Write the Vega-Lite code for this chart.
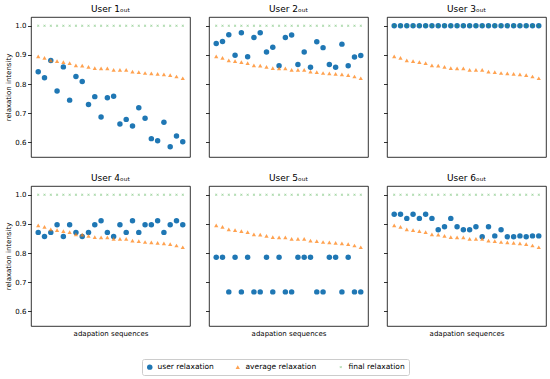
{
"$schema":"https://vega.github.io/schema/vega-lite/v6.json",
"padding":{"left":4,"top":4,"right":5,"bottom":4},
"data":{"values":[
{"u":1,"s":0,"k":"user relaxation","v":0.842},{"u":1,"s":1,"k":"user relaxation","v":0.822},{"u":1,"s":2,"k":"user relaxation","v":0.881},{"u":1,"s":3,"k":"user relaxation","v":0.776},{"u":1,"s":4,"k":"user relaxation","v":0.859},{"u":1,"s":5,"k":"user relaxation","v":0.745},{"u":1,"s":6,"k":"user relaxation","v":0.826},{"u":1,"s":7,"k":"user relaxation","v":0.809},{"u":1,"s":8,"k":"user relaxation","v":0.730},{"u":1,"s":9,"k":"user relaxation","v":0.757},{"u":1,"s":10,"k":"user relaxation","v":0.687},{"u":1,"s":11,"k":"user relaxation","v":0.753},{"u":1,"s":12,"k":"user relaxation","v":0.758},{"u":1,"s":13,"k":"user relaxation","v":0.663},{"u":1,"s":14,"k":"user relaxation","v":0.679},{"u":1,"s":15,"k":"user relaxation","v":0.656},{"u":1,"s":16,"k":"user relaxation","v":0.719},{"u":1,"s":17,"k":"user relaxation","v":0.683},{"u":1,"s":18,"k":"user relaxation","v":0.613},{"u":1,"s":19,"k":"user relaxation","v":0.606},{"u":1,"s":20,"k":"user relaxation","v":0.669},{"u":1,"s":21,"k":"user relaxation","v":0.585},{"u":1,"s":22,"k":"user relaxation","v":0.622},{"u":1,"s":23,"k":"user relaxation","v":0.602},
{"u":2,"s":0,"k":"user relaxation","v":0.939},{"u":2,"s":1,"k":"user relaxation","v":0.946},{"u":2,"s":2,"k":"user relaxation","v":0.969},{"u":2,"s":3,"k":"user relaxation","v":0.899},{"u":2,"s":4,"k":"user relaxation","v":0.976},{"u":2,"s":5,"k":"user relaxation","v":0.894},{"u":2,"s":6,"k":"user relaxation","v":0.960},{"u":2,"s":7,"k":"user relaxation","v":0.976},{"u":2,"s":8,"k":"user relaxation","v":0.910},{"u":2,"s":9,"k":"user relaxation","v":0.926},{"u":2,"s":10,"k":"user relaxation","v":0.863},{"u":2,"s":11,"k":"user relaxation","v":0.960},{"u":2,"s":12,"k":"user relaxation","v":0.968},{"u":2,"s":13,"k":"user relaxation","v":0.867},{"u":2,"s":14,"k":"user relaxation","v":0.910},{"u":2,"s":15,"k":"user relaxation","v":0.858},{"u":2,"s":16,"k":"user relaxation","v":0.945},{"u":2,"s":17,"k":"user relaxation","v":0.925},{"u":2,"s":18,"k":"user relaxation","v":0.867},{"u":2,"s":19,"k":"user relaxation","v":0.858},{"u":2,"s":20,"k":"user relaxation","v":0.937},{"u":2,"s":21,"k":"user relaxation","v":0.863},{"u":2,"s":22,"k":"user relaxation","v":0.893},{"u":2,"s":23,"k":"user relaxation","v":0.898},
{"u":3,"s":0,"k":"user relaxation","v":1.0},{"u":3,"s":1,"k":"user relaxation","v":1.0},{"u":3,"s":2,"k":"user relaxation","v":1.0},{"u":3,"s":3,"k":"user relaxation","v":1.0},{"u":3,"s":4,"k":"user relaxation","v":1.0},{"u":3,"s":5,"k":"user relaxation","v":1.0},{"u":3,"s":6,"k":"user relaxation","v":1.0},{"u":3,"s":7,"k":"user relaxation","v":1.0},{"u":3,"s":8,"k":"user relaxation","v":1.0},{"u":3,"s":9,"k":"user relaxation","v":1.0},{"u":3,"s":10,"k":"user relaxation","v":1.0},{"u":3,"s":11,"k":"user relaxation","v":1.0},{"u":3,"s":12,"k":"user relaxation","v":1.0},{"u":3,"s":13,"k":"user relaxation","v":1.0},{"u":3,"s":14,"k":"user relaxation","v":1.0},{"u":3,"s":15,"k":"user relaxation","v":1.0},{"u":3,"s":16,"k":"user relaxation","v":1.0},{"u":3,"s":17,"k":"user relaxation","v":1.0},{"u":3,"s":18,"k":"user relaxation","v":1.0},{"u":3,"s":19,"k":"user relaxation","v":1.0},{"u":3,"s":20,"k":"user relaxation","v":1.0},{"u":3,"s":21,"k":"user relaxation","v":1.0},{"u":3,"s":22,"k":"user relaxation","v":1.0},{"u":3,"s":23,"k":"user relaxation","v":1.0},
{"u":4,"s":0,"k":"user relaxation","v":0.871},{"u":4,"s":1,"k":"user relaxation","v":0.857},{"u":4,"s":2,"k":"user relaxation","v":0.871},{"u":4,"s":3,"k":"user relaxation","v":0.897},{"u":4,"s":4,"k":"user relaxation","v":0.857},{"u":4,"s":5,"k":"user relaxation","v":0.897},{"u":4,"s":6,"k":"user relaxation","v":0.871},{"u":4,"s":7,"k":"user relaxation","v":0.857},{"u":4,"s":8,"k":"user relaxation","v":0.871},{"u":4,"s":9,"k":"user relaxation","v":0.897},{"u":4,"s":10,"k":"user relaxation","v":0.911},{"u":4,"s":11,"k":"user relaxation","v":0.871},{"u":4,"s":12,"k":"user relaxation","v":0.857},{"u":4,"s":13,"k":"user relaxation","v":0.897},{"u":4,"s":14,"k":"user relaxation","v":0.871},{"u":4,"s":15,"k":"user relaxation","v":0.911},{"u":4,"s":16,"k":"user relaxation","v":0.871},{"u":4,"s":17,"k":"user relaxation","v":0.897},{"u":4,"s":18,"k":"user relaxation","v":0.897},{"u":4,"s":19,"k":"user relaxation","v":0.911},{"u":4,"s":20,"k":"user relaxation","v":0.871},{"u":4,"s":21,"k":"user relaxation","v":0.897},{"u":4,"s":22,"k":"user relaxation","v":0.911},{"u":4,"s":23,"k":"user relaxation","v":0.897},
{"u":5,"s":0,"k":"user relaxation","v":0.786},{"u":5,"s":1,"k":"user relaxation","v":0.786},{"u":5,"s":2,"k":"user relaxation","v":0.667},{"u":5,"s":3,"k":"user relaxation","v":0.786},{"u":5,"s":4,"k":"user relaxation","v":0.667},{"u":5,"s":5,"k":"user relaxation","v":0.786},{"u":5,"s":6,"k":"user relaxation","v":0.667},{"u":5,"s":7,"k":"user relaxation","v":0.667},{"u":5,"s":8,"k":"user relaxation","v":0.786},{"u":5,"s":9,"k":"user relaxation","v":0.667},{"u":5,"s":10,"k":"user relaxation","v":0.786},{"u":5,"s":11,"k":"user relaxation","v":0.667},{"u":5,"s":12,"k":"user relaxation","v":0.667},{"u":5,"s":13,"k":"user relaxation","v":0.786},{"u":5,"s":14,"k":"user relaxation","v":0.786},{"u":5,"s":15,"k":"user relaxation","v":0.786},{"u":5,"s":16,"k":"user relaxation","v":0.667},{"u":5,"s":17,"k":"user relaxation","v":0.667},{"u":5,"s":18,"k":"user relaxation","v":0.786},{"u":5,"s":19,"k":"user relaxation","v":0.786},{"u":5,"s":20,"k":"user relaxation","v":0.667},{"u":5,"s":21,"k":"user relaxation","v":0.786},{"u":5,"s":22,"k":"user relaxation","v":0.667},{"u":5,"s":23,"k":"user relaxation","v":0.667},
{"u":6,"s":0,"k":"user relaxation","v":0.933},{"u":6,"s":1,"k":"user relaxation","v":0.933},{"u":6,"s":2,"k":"user relaxation","v":0.919},{"u":6,"s":3,"k":"user relaxation","v":0.933},{"u":6,"s":4,"k":"user relaxation","v":0.919},{"u":6,"s":5,"k":"user relaxation","v":0.933},{"u":6,"s":6,"k":"user relaxation","v":0.919},{"u":6,"s":7,"k":"user relaxation","v":0.880},{"u":6,"s":8,"k":"user relaxation","v":0.890},{"u":6,"s":9,"k":"user relaxation","v":0.919},{"u":6,"s":10,"k":"user relaxation","v":0.890},{"u":6,"s":11,"k":"user relaxation","v":0.880},{"u":6,"s":12,"k":"user relaxation","v":0.880},{"u":6,"s":13,"k":"user relaxation","v":0.890},{"u":6,"s":14,"k":"user relaxation","v":0.856},{"u":6,"s":15,"k":"user relaxation","v":0.890},{"u":6,"s":16,"k":"user relaxation","v":0.859},{"u":6,"s":17,"k":"user relaxation","v":0.880},{"u":6,"s":18,"k":"user relaxation","v":0.856},{"u":6,"s":19,"k":"user relaxation","v":0.856},{"u":6,"s":20,"k":"user relaxation","v":0.859},{"u":6,"s":21,"k":"user relaxation","v":0.856},{"u":6,"s":22,"k":"user relaxation","v":0.859},{"u":6,"s":23,"k":"user relaxation","v":0.859},
{"u":0,"s":0,"k":"average relaxation","v":0.895},{"u":0,"s":1,"k":"average relaxation","v":0.890},{"u":0,"s":2,"k":"average relaxation","v":0.881},{"u":0,"s":3,"k":"average relaxation","v":0.879},{"u":0,"s":4,"k":"average relaxation","v":0.875},{"u":0,"s":5,"k":"average relaxation","v":0.872},{"u":0,"s":6,"k":"average relaxation","v":0.864},{"u":0,"s":7,"k":"average relaxation","v":0.863},{"u":0,"s":8,"k":"average relaxation","v":0.859},{"u":0,"s":9,"k":"average relaxation","v":0.855},{"u":0,"s":10,"k":"average relaxation","v":0.854},{"u":0,"s":11,"k":"average relaxation","v":0.854},{"u":0,"s":12,"k":"average relaxation","v":0.849},{"u":0,"s":13,"k":"average relaxation","v":0.849},{"u":0,"s":14,"k":"average relaxation","v":0.849},{"u":0,"s":15,"k":"average relaxation","v":0.843},{"u":0,"s":16,"k":"average relaxation","v":0.841},{"u":0,"s":17,"k":"average relaxation","v":0.838},{"u":0,"s":18,"k":"average relaxation","v":0.837},{"u":0,"s":19,"k":"average relaxation","v":0.835},{"u":0,"s":20,"k":"average relaxation","v":0.833},{"u":0,"s":21,"k":"average relaxation","v":0.831},{"u":0,"s":22,"k":"average relaxation","v":0.826},{"u":0,"s":23,"k":"average relaxation","v":0.820},
{"u":0,"s":0,"k":"final relaxation","v":1.0},{"u":0,"s":1,"k":"final relaxation","v":1.0},{"u":0,"s":2,"k":"final relaxation","v":1.0},{"u":0,"s":3,"k":"final relaxation","v":1.0},{"u":0,"s":4,"k":"final relaxation","v":1.0},{"u":0,"s":5,"k":"final relaxation","v":1.0},{"u":0,"s":6,"k":"final relaxation","v":1.0},{"u":0,"s":7,"k":"final relaxation","v":1.0},{"u":0,"s":8,"k":"final relaxation","v":1.0},{"u":0,"s":9,"k":"final relaxation","v":1.0},{"u":0,"s":10,"k":"final relaxation","v":1.0},{"u":0,"s":11,"k":"final relaxation","v":1.0},{"u":0,"s":12,"k":"final relaxation","v":1.0},{"u":0,"s":13,"k":"final relaxation","v":1.0},{"u":0,"s":14,"k":"final relaxation","v":1.0},{"u":0,"s":15,"k":"final relaxation","v":1.0},{"u":0,"s":16,"k":"final relaxation","v":1.0},{"u":0,"s":17,"k":"final relaxation","v":1.0},{"u":0,"s":18,"k":"final relaxation","v":1.0},{"u":0,"s":19,"k":"final relaxation","v":1.0},{"u":0,"s":20,"k":"final relaxation","v":1.0},{"u":0,"s":21,"k":"final relaxation","v":1.0},{"u":0,"s":22,"k":"final relaxation","v":1.0},{"u":0,"s":23,"k":"final relaxation","v":1.0}
]},
"vconcat":[
{"hconcat":[
{"width":159,"height":140,"title":{"text":"User 1ₒᵤₜ","fontWeight":400},"transform":[{"filter":"datum.u == 1 || datum.u == 0"}],"mark":{"type":"point","filled":true},
"encoding":{
"x":{"field":"s","type":"quantitative","scale":{"domain":[-1.15,24.15],"nice":false,"zero":false},"axis":null},
"y":{"field":"v","type":"quantitative","scale":{"domain":[0.55,1.03],"nice":false,"zero":false},"axis":{"values":[0.6,0.7,0.8,0.9,1.0],"format":".1f","title":"relaxation intensity"}},
"color":{"field":"k","type":"nominal","scale":{"domain":["user relaxation","average relaxation","final relaxation"],"range":["#1f77b4","#ff7f0e","#2ca02c"]},"legend":{"title":null}},
"shape":{"field":"k","type":"nominal","scale":{"domain":["user relaxation","average relaxation","final relaxation"],"range":["circle","triangle-up","M-1,-0.6L-0.6,-1L0,-0.4L0.6,-1L1,-0.6L0.4,0L1,0.6L0.6,1L0,0.4L-0.6,1L-1,0.6L-0.4,0Z"]},"legend":{"title":null}},
"opacity":{"field":"k","type":"nominal","scale":{"domain":["user relaxation","average relaxation","final relaxation"],"range":[1,0.45,0.5]},"legend":{"title":null}},
"size":{"field":"k","type":"nominal","scale":{"domain":["user relaxation","average relaxation","final relaxation"],"range":[30,6,9]},"legend":{"title":null}}
}},
{"width":159,"height":140,"title":{"text":"User 2ₒᵤₜ","fontWeight":400},"transform":[{"filter":"datum.u == 2 || datum.u == 0"}],"mark":{"type":"point","filled":true},
"encoding":{
"x":{"field":"s","type":"quantitative","scale":{"domain":[-1.15,24.15],"nice":false,"zero":false},"axis":null},
"y":{"field":"v","type":"quantitative","scale":{"domain":[0.55,1.03],"nice":false,"zero":false},"axis":{"values":[0.6,0.7,0.8,0.9,1.0],"labels":false,"title":null}},
"color":{"field":"k","type":"nominal","scale":{"domain":["user relaxation","average relaxation","final relaxation"],"range":["#1f77b4","#ff7f0e","#2ca02c"]},"legend":{"title":null}},
"shape":{"field":"k","type":"nominal","scale":{"domain":["user relaxation","average relaxation","final relaxation"],"range":["circle","triangle-up","M-1,-0.6L-0.6,-1L0,-0.4L0.6,-1L1,-0.6L0.4,0L1,0.6L0.6,1L0,0.4L-0.6,1L-1,0.6L-0.4,0Z"]},"legend":{"title":null}},
"opacity":{"field":"k","type":"nominal","scale":{"domain":["user relaxation","average relaxation","final relaxation"],"range":[1,0.45,0.5]},"legend":{"title":null}},
"size":{"field":"k","type":"nominal","scale":{"domain":["user relaxation","average relaxation","final relaxation"],"range":[30,6,9]},"legend":{"title":null}}
}},
{"width":159,"height":140,"title":{"text":"User 3ₒᵤₜ","fontWeight":400},"transform":[{"filter":"datum.u == 3 || datum.u == 0"}],"mark":{"type":"point","filled":true},
"encoding":{
"x":{"field":"s","type":"quantitative","scale":{"domain":[-1.15,24.15],"nice":false,"zero":false},"axis":null},
"y":{"field":"v","type":"quantitative","scale":{"domain":[0.55,1.03],"nice":false,"zero":false},"axis":{"values":[0.6,0.7,0.8,0.9,1.0],"labels":false,"title":null}},
"color":{"field":"k","type":"nominal","scale":{"domain":["user relaxation","average relaxation","final relaxation"],"range":["#1f77b4","#ff7f0e","#2ca02c"]},"legend":{"title":null}},
"shape":{"field":"k","type":"nominal","scale":{"domain":["user relaxation","average relaxation","final relaxation"],"range":["circle","triangle-up","M-1,-0.6L-0.6,-1L0,-0.4L0.6,-1L1,-0.6L0.4,0L1,0.6L0.6,1L0,0.4L-0.6,1L-1,0.6L-0.4,0Z"]},"legend":{"title":null}},
"opacity":{"field":"k","type":"nominal","scale":{"domain":["user relaxation","average relaxation","final relaxation"],"range":[1,0.45,0.5]},"legend":{"title":null}},
"size":{"field":"k","type":"nominal","scale":{"domain":["user relaxation","average relaxation","final relaxation"],"range":[30,6,9]},"legend":{"title":null}}
}}
]},
{"hconcat":[
{"width":159,"height":140,"title":{"text":"User 4ₒᵤₜ","fontWeight":400},"transform":[{"filter":"datum.u == 4 || datum.u == 0"}],"mark":{"type":"point","filled":true},
"encoding":{
"x":{"field":"s","type":"quantitative","scale":{"domain":[-1.15,24.15],"nice":false,"zero":false},"axis":{"ticks":false,"labels":false,"title":"adapation sequences"}},
"y":{"field":"v","type":"quantitative","scale":{"domain":[0.55,1.03],"nice":false,"zero":false},"axis":{"values":[0.6,0.7,0.8,0.9,1.0],"format":".1f","title":"relaxation intensity"}},
"color":{"field":"k","type":"nominal","scale":{"domain":["user relaxation","average relaxation","final relaxation"],"range":["#1f77b4","#ff7f0e","#2ca02c"]},"legend":{"title":null}},
"shape":{"field":"k","type":"nominal","scale":{"domain":["user relaxation","average relaxation","final relaxation"],"range":["circle","triangle-up","M-1,-0.6L-0.6,-1L0,-0.4L0.6,-1L1,-0.6L0.4,0L1,0.6L0.6,1L0,0.4L-0.6,1L-1,0.6L-0.4,0Z"]},"legend":{"title":null}},
"opacity":{"field":"k","type":"nominal","scale":{"domain":["user relaxation","average relaxation","final relaxation"],"range":[1,0.45,0.5]},"legend":{"title":null}},
"size":{"field":"k","type":"nominal","scale":{"domain":["user relaxation","average relaxation","final relaxation"],"range":[30,6,9]},"legend":{"title":null}}
}},
{"width":159,"height":140,"title":{"text":"User 5ₒᵤₜ","fontWeight":400},"transform":[{"filter":"datum.u == 5 || datum.u == 0"}],"mark":{"type":"point","filled":true},
"encoding":{
"x":{"field":"s","type":"quantitative","scale":{"domain":[-1.15,24.15],"nice":false,"zero":false},"axis":{"ticks":false,"labels":false,"title":"adapation sequences"}},
"y":{"field":"v","type":"quantitative","scale":{"domain":[0.55,1.03],"nice":false,"zero":false},"axis":{"values":[0.6,0.7,0.8,0.9,1.0],"labels":false,"title":null}},
"color":{"field":"k","type":"nominal","scale":{"domain":["user relaxation","average relaxation","final relaxation"],"range":["#1f77b4","#ff7f0e","#2ca02c"]},"legend":{"title":null}},
"shape":{"field":"k","type":"nominal","scale":{"domain":["user relaxation","average relaxation","final relaxation"],"range":["circle","triangle-up","M-1,-0.6L-0.6,-1L0,-0.4L0.6,-1L1,-0.6L0.4,0L1,0.6L0.6,1L0,0.4L-0.6,1L-1,0.6L-0.4,0Z"]},"legend":{"title":null}},
"opacity":{"field":"k","type":"nominal","scale":{"domain":["user relaxation","average relaxation","final relaxation"],"range":[1,0.45,0.5]},"legend":{"title":null}},
"size":{"field":"k","type":"nominal","scale":{"domain":["user relaxation","average relaxation","final relaxation"],"range":[30,6,9]},"legend":{"title":null}}
}},
{"width":159,"height":140,"title":{"text":"User 6ₒᵤₜ","fontWeight":400},"transform":[{"filter":"datum.u == 6 || datum.u == 0"}],"mark":{"type":"point","filled":true},
"encoding":{
"x":{"field":"s","type":"quantitative","scale":{"domain":[-1.15,24.15],"nice":false,"zero":false},"axis":{"ticks":false,"labels":false,"title":"adapation sequences"}},
"y":{"field":"v","type":"quantitative","scale":{"domain":[0.55,1.03],"nice":false,"zero":false},"axis":{"values":[0.6,0.7,0.8,0.9,1.0],"labels":false,"title":null}},
"color":{"field":"k","type":"nominal","scale":{"domain":["user relaxation","average relaxation","final relaxation"],"range":["#1f77b4","#ff7f0e","#2ca02c"]},"legend":{"title":null}},
"shape":{"field":"k","type":"nominal","scale":{"domain":["user relaxation","average relaxation","final relaxation"],"range":["circle","triangle-up","M-1,-0.6L-0.6,-1L0,-0.4L0.6,-1L1,-0.6L0.4,0L1,0.6L0.6,1L0,0.4L-0.6,1L-1,0.6L-0.4,0Z"]},"legend":{"title":null}},
"opacity":{"field":"k","type":"nominal","scale":{"domain":["user relaxation","average relaxation","final relaxation"],"range":[1,0.45,0.5]},"legend":{"title":null}},
"size":{"field":"k","type":"nominal","scale":{"domain":["user relaxation","average relaxation","final relaxation"],"range":[30,6,9]},"legend":{"title":null}}
}}
]}
],
"spacing":15,
"config":{
"font":"DejaVu Sans",
"concat":{"spacing":13},
"view":{"stroke":"black","strokeWidth":0.8},
"axis":{"grid":false,"domain":false,"tickColor":"black","tickSize":3.5,"tickWidth":0.8,"labelFontSize":7,"labelColor":"black","labelPadding":1.5,"titleFontSize":7,"titleFontWeight":"normal","titleColor":"black","titlePadding":3},
"title":{"fontSize":9,"fontWeight":"normal","color":"black","offset":3},
"legend":{"orient":"bottom","direction":"horizontal","strokeColor":"#cccccc","cornerRadius":2,"padding":4,"labelFontSize":7.5,"labelColor":"black","columnPadding":20,"offset":22,"layout":{"bottom":{"anchor":"middle"}}}
}
}
